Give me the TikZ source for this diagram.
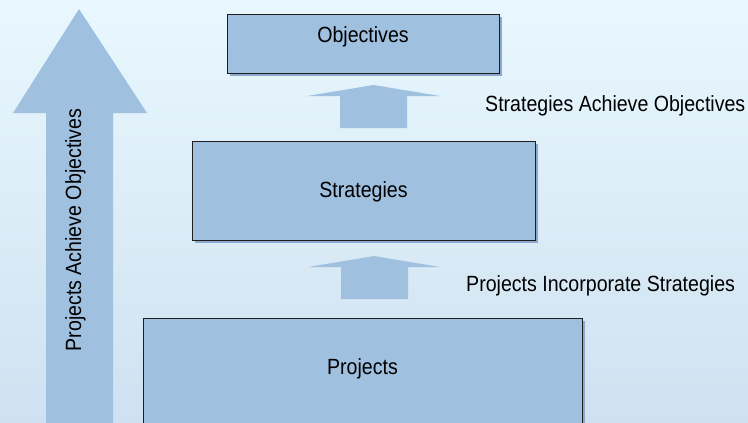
\documentclass[tikz,border=0pt]{standalone}
\usepackage{fontspec}
\setmainfont[FakeStretch=0.89]{Liberation Sans}
\usetikzlibrary{shadows}
\definecolor{bgtop}{RGB}{233,248,254}
\definecolor{bgbot}{RGB}{207,225,241}
\definecolor{boxblue}{RGB}{160,192,224}
\definecolor{shadowblue}{RGB}{140,168,206}
\definecolor{edge}{RGB}{30,30,30}
\tikzset{
  stage/.style={draw=edge, line width=0.8pt, fill=boxblue, inner sep=0pt,
    general shadow={fill=shadowblue, shadow xshift=3pt, shadow yshift=-3pt}},
  blockarrow/.style={fill=boxblue, draw=none},
  lbl/.style={font=\fontsize{22}{25}\selectfont, text=black, inner sep=0pt}
}
\begin{document}
\begin{tikzpicture}[x=1pt,y=-1pt]
\shade[top color=bgtop, bottom color=bgbot] (0,0) rectangle (748,423);
\useasboundingbox (0,0) rectangle (748,423);
\begin{scope}
\clip (0,0) rectangle (748,423);
% big arrow
\fill[blockarrow] (46,430) -- (46,113) -- (13,113) -- (79,9) -- (147,113) -- (113,113) -- (113,430) -- cycle;
\node[lbl, rotate=90] (bigtext) at (75.5,230) {Projects Achieve Objectives};
% boxes
\node[stage, minimum width=272pt, minimum height=59pt] (obj) at (363,43.5) {};
\node[lbl] (objt) at (363,37) {Objectives};
\node[stage, minimum width=343pt, minimum height=99pt] (str) at (363.5,190.5) {};
\node[lbl] (strtext) at (363.5,192) {Strategies};
\node[stage, minimum width=439pt, minimum height=140pt] (proj) at (362.5,388) {};
\node[lbl] (projt) at (362.5,369) {Projects};
% small arrows
\fill[blockarrow] (340,128) -- (340,96) -- (307,96) -- (373.5,85) -- (440,96) -- (407,96) -- (407,128) -- cycle;
\fill[blockarrow] (341,299) -- (341,267) -- (308,267) -- (374,256) -- (440,267) -- (408,267) -- (408,299) -- cycle;
\node[lbl, anchor=west] (l1) at (485,106) {Strategies Achieve Objectives};
\node[lbl, anchor=west] (l2) at (466,286) {Projects Incorporate Strategies};
\end{scope}
\end{tikzpicture}
\end{document}
